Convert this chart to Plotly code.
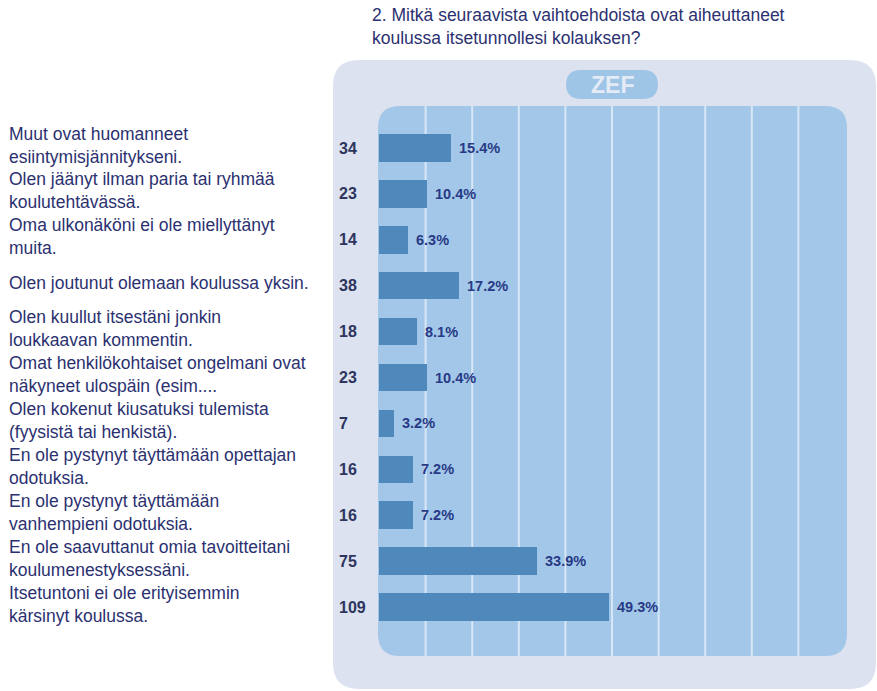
import plotly.graph_objects as go

W, H = 877, 691

title = "2. Mitkä seuraavista vaihtoehdoista ovat aiheuttaneet<br>koulussa itsetunnollesi kolauksen?"

categories = [
    "Muut ovat huomanneet<br>esiintymisjännitykseni.",
    "Olen jäänyt ilman paria tai ryhmää<br>koulutehtävässä.",
    "Oma ulkonäköni ei ole miellyttänyt<br>muita.",
    "Olen joutunut olemaan koulussa yksin.",
    "Olen kuullut itsestäni jonkin<br>loukkaavan kommentin.",
    "Omat henkilökohtaiset ongelmani ovat<br>näkyneet ulospäin (esim....",
    "Olen kokenut kiusatuksi tulemista<br>(fyysistä tai henkistä).",
    "En ole pystynyt täyttämään opettajan<br>odotuksia.",
    "En ole pystynyt täyttämään<br>vanhempieni odotuksia.",
    "En ole saavuttanut omia tavoitteitani<br>koulumenestyksessäni.",
    "Itsetuntoni ei ole erityisemmin<br>kärsinyt koulussa.",
]
counts = [34, 23, 14, 38, 18, 23, 7, 16, 16, 75, 109]
percents = [15.4, 10.4, 6.3, 17.2, 8.1, 10.4, 3.2, 7.2, 7.2, 33.9, 49.3]
grid_ticks = [10, 20, 30, 40, 50, 60, 70, 80, 90]

FONT = "Liberation Sans, Arial, Helvetica, sans-serif"
NAVY = "#2b3170"
OUTER = "#dce2ef"
INNER = "#a3c7e8"
BAR = "#4f88bb"
GRID = "#d8e7f5"


def px(x):
    return x / W


def py(y):
    return 1 - y / H


def rounded_rect(x0, y0, x1, y1, r):
    pts = [
        f"M {px(x0 + r)} {py(y0)}",
        f"L {px(x1 - r)} {py(y0)}",
        f"Q {px(x1)} {py(y0)} {px(x1)} {py(y0 + r)}",
        f"L {px(x1)} {py(y1 - r)}",
        f"Q {px(x1)} {py(y1)} {px(x1 - r)} {py(y1)}",
        f"L {px(x0 + r)} {py(y1)}",
        f"Q {px(x0)} {py(y1)} {px(x0)} {py(y1 - r)}",
        f"L {px(x0)} {py(y0 + r)}",
        f"Q {px(x0)} {py(y0)} {px(x0 + r)} {py(y0)}",
        "Z",
    ]
    return " ".join(pts)


# plot-area geometry (pixels)
X0, X100 = 379, 845
IN_L, IN_R, IN_T, IN_B = 378, 847, 106, 656
FIRST, STEP = 148, 45.9
n = len(categories)
ypos = list(range(n))
y_top = -(FIRST - IN_T) / STEP
y_bot = (n - 1) + (IN_B - (FIRST + STEP * (n - 1))) / STEP

fig = go.Figure()
fig.add_trace(go.Bar(
    x=percents,
    y=ypos,
    orientation="h",
    marker=dict(color=BAR, line=dict(width=0)),
    width=0.6,
    hoverinfo="skip",
))

shapes = [
    dict(type="path", xref="paper", yref="paper", path=rounded_rect(333, 60, 876, 689, 26),
         fillcolor=OUTER, line=dict(width=0), layer="below"),
    dict(type="path", xref="paper", yref="paper", path=rounded_rect(IN_L, IN_T, IN_R, IN_B, 22),
         fillcolor=INNER, line=dict(width=0), layer="below"),
    dict(type="path", xref="paper", yref="paper", path=rounded_rect(566, 70, 658, 99, 15),
         fillcolor="#9ec4e6", line=dict(width=0), layer="below"),
]
for g in grid_ticks:
    shapes.append(dict(type="line", xref="x", yref="paper", x0=g, x1=g,
                       y0=py(IN_B), y1=py(IN_T), line=dict(color=GRID, width=2), layer="below"))

annotations = [
    dict(text=title, xref="paper", yref="paper", x=px(370), y=py(3), xanchor="left", yanchor="top",
         align="left", showarrow=False, font=dict(family=FONT, size=17.5, color=NAVY)),
    dict(text="<b>ZEF</b>", xref="paper", yref="paper", x=px(612), y=py(85), xanchor="center",
         yanchor="middle", showarrow=False, font=dict(family=FONT, size=23, color="#e3ebf6")),
]
for i, (cat, c, p) in enumerate(zip(categories, counts, percents)):
    annotations.append(dict(text=cat, xref="paper", yref="y", x=px(7), y=i, yshift=3,
                            xanchor="left", yanchor="middle", align="left", showarrow=False,
                            font=dict(family=FONT, size=17.5, color=NAVY)))
    annotations.append(dict(text=f"<b>{c}</b>", xref="paper", yref="y", x=px(337), y=i,
                            xanchor="left", yanchor="middle", showarrow=False,
                            font=dict(family=FONT, size=16, color="#2d355f")))
    annotations.append(dict(text=f"<b>{p}%</b>", xref="x", yref="y", x=p, y=i, xshift=6,
                            xanchor="left", yanchor="middle", showarrow=False,
                            font=dict(family=FONT, size=14.5, color="#283a86")))

fig.update_layout(
    width=W, height=H,
    margin=dict(l=0, r=0, t=0, b=0),
    paper_bgcolor="white",
    plot_bgcolor="rgba(0,0,0,0)",
    showlegend=False,
    bargap=0,
    xaxis=dict(domain=[px(X0), px(X100)], range=[0, 100], showgrid=False, zeroline=False,
               showticklabels=False, fixedrange=True),
    yaxis=dict(domain=[py(IN_B), py(IN_T)], range=[y_bot, y_top], showgrid=False, zeroline=False,
               showticklabels=False, fixedrange=True),
    shapes=shapes,
    annotations=annotations,
)

fig.write_html("out.html")
